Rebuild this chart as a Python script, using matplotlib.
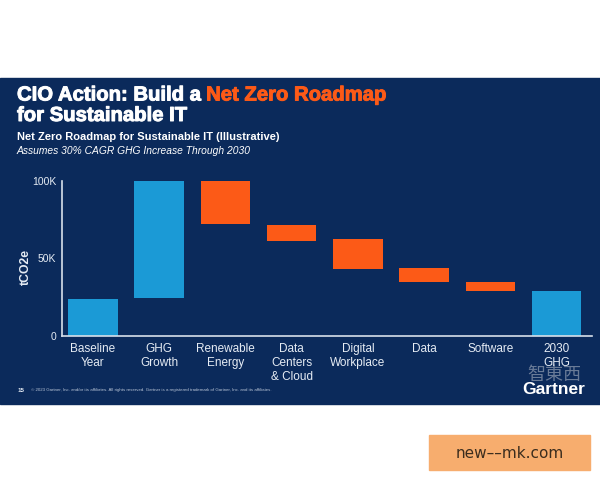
import matplotlib.pyplot as plt
import matplotlib.patheffects as pe
from matplotlib.patches import Rectangle

# waterfall data, thousands of tCO2e
categories = ["Baseline\nYear", "GHG\nGrowth", "Renewable\nEnergy", "Data\nCenters\n& Cloud",
              "Digital\nWorkplace", "Data", "Software", "2030\nGHG"]
bar_low = [0, 24.5, 72, 61.5, 43.5, 34.6, 28.8, 0]
bar_high = [24, 100, 100, 71.7, 62.7, 43.7, 35, 28.8]
kinds = ["total", "up", "down", "down", "down", "down", "down", "total"]
y_ticks = [0, 50, 100]
y_tick_labels = ["0", "50K", "100K"]

navy = "#0b2a5b"
blue = "#1b9ad6"
orange = "#fc5a17"
light = "#e6ecf4"

plt.rcParams['font.family'] = ['Liberation Sans', 'DejaVu Sans']

fig = plt.figure(figsize=(6, 4.8), dpi=100, facecolor="white")

# background layer in pixel coordinates
bg = fig.add_axes([0, 0, 1, 1], zorder=0)
bg.set_xlim(0, 600)
bg.set_ylim(480, 0)
bg.axis("off")
bg.add_patch(Rectangle((0, 78), 600, 326, color=navy))

heavy_w = [pe.withStroke(linewidth=0.7, foreground="white")]
heavy_o = [pe.withStroke(linewidth=0.7, foreground=orange)]
t1 = bg.text(17, 100.5, "CIO Action: Build a ", color="white", fontsize=14.6,
             fontweight="bold", va="baseline", path_effects=heavy_w)
bg.annotate("Net Zero Roadmap", xy=(1, 0), xycoords=t1, color=orange, fontsize=14.6,
            fontweight="bold", va="bottom", path_effects=heavy_o)
bg.text(17, 121, "for Sustainable IT", color="white", fontsize=14.6,
        fontweight="bold", va="baseline", path_effects=heavy_w)
bg.text(17, 137, "Net Zero Roadmap for Sustainable IT (Illustrative)", color="white",
        fontsize=8.0, fontweight="bold", va="center")
bg.text(17, 151.5, "Assumes 30% CAGR GHG Increase Through 2030", color="white",
        fontsize=7.35, style="italic", va="center")

bg.text(25.7, 267, "tCO2e", color=light, fontsize=8.8, fontweight="bold",
        rotation=90, ha="center", va="center")

bg.text(18, 390, "15", color=light, fontsize=4.5, fontweight="bold", va="center")
bg.text(31, 390, "\u00a9 2023 Gartner, Inc. and/or its affiliates. All rights reserved. "
        "Gartner is a registered trademark of Gartner, Inc. and its affiliates.",
        color="#b8c4d6", fontsize=3.2, va="center")
# watermark sits over the logo in the source image
bg.text(554, 375, "智東西", color="#c8ccd4", alpha=0.5, fontsize=13, ha="center", va="center",
        family=["Noto Sans CJK TC", "DejaVu Sans"])
bg.text(554, 389, "Gartner", color="white", fontsize=12.5, fontweight="bold",
        ha="center", va="center")

bg.add_patch(Rectangle((429, 435), 161, 35, color="#f7ad6e"))
bg.text(509.5, 453, "new\u2013\u2013mk.com", color="#3b2d1e", fontsize=11,
        ha="center", va="center", family=["DejaVu Sans"])

# chart
ax = fig.add_axes([62 / 600, 1 - 336 / 480, 529.7 / 600, 155 / 480], zorder=1)
ax.set_facecolor("none")
x = range(len(categories))
colors = [orange if k == "down" else blue for k in kinds]
heights = [h - l for l, h in zip(bar_low, bar_high)]
ax.bar(x, heights, bottom=bar_low, width=0.748, color=colors)

ax.set_xlim(-0.468, 7.53)
ax.set_ylim(0, 100)
ax.set_xticks(list(x))
ax.set_xticklabels(categories, color=light, fontsize=8.5, linespacing=1.2)
ax.set_yticks(y_ticks)
ax.set_yticklabels(y_tick_labels, color=light, fontsize=7.5)
ax.tick_params(length=0, pad=4)
ax.tick_params(axis="x", pad=5)
for side in ["top", "right"]:
    ax.spines[side].set_visible(False)
for side in ["left", "bottom"]:
    ax.spines[side].set_color("#d8e0ea")
    ax.spines[side].set_linewidth(1.2)

fig.savefig("out.png", dpi=100, facecolor="white")
